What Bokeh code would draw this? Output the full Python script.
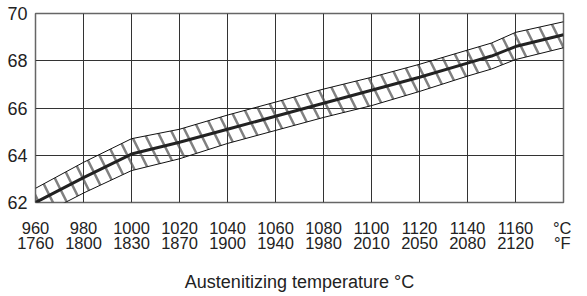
from bokeh.plotting import figure
from bokeh.models import FixedTicker, Range1d
from bokeh.embed import file_html
from bokeh.resources import INLINE

# Austenitizing temperature (°C) and hardness band (HRC)
temp_c = [960, 980, 1000, 1020, 1040, 1060, 1080, 1100, 1120, 1140, 1150, 1160, 1180]
hardness_mid = [62.0, 63.05, 64.05, 64.55, 65.1, 65.65, 66.2, 66.75, 67.3, 67.9, 68.2, 68.6, 69.1]
hardness_upper = [62.6, 63.7, 64.7, 65.1, 65.7, 66.25, 66.8, 67.3, 67.85, 68.45, 68.75, 69.2, 69.65]
hardness_lower = [61.35, 62.4, 63.35, 63.85, 64.5, 65.05, 65.6, 66.1, 66.7, 67.35, 67.65, 68.05, 68.55]

x_ticks = [960, 980, 1000, 1020, 1040, 1060, 1080, 1100, 1120, 1140, 1160, 1180]
labels_c = ["960", "980", "1000", "1020", "1040", "1060", "1080", "1100", "1120", "1140", "1160", "°C"]
labels_f = ["1760", "1800", "1830", "1870", "1900", "1940", "1980", "2010", "2050", "2080", "2120", "°F"]
y_ticks = [62, 64, 66, 68, 70]

FONT = "Liberation Sans"

p = figure(width=571, height=294, x_range=Range1d(960, 1180), y_range=Range1d(62, 70),
           output_backend="svg", toolbar_location=None,
           min_border_left=35, min_border_right=8, min_border_top=13, min_border_bottom=89)
p.outline_line_color = "#666666"
p.outline_line_width = 1.5
p.background_fill_color = "white"
p.border_fill_color = "white"

# grid
p.xgrid.ticker = FixedTicker(ticks=x_ticks)
p.ygrid.ticker = FixedTicker(ticks=y_ticks)
for g in (p.xgrid, p.ygrid):
    g.grid_line_color = "#333333"
    g.grid_line_width = 1
    g.grid_line_alpha = 1

# band
p.varea(x=temp_c, y1=hardness_lower, y2=hardness_upper, fill_color=None, fill_alpha=0,
        hatch_pattern="\\", hatch_color="#555555", hatch_weight=2.5, hatch_scale=28, hatch_alpha=0.75)
p.line(temp_c, hardness_upper, line_color="#111111", line_width=1)
p.line(temp_c, hardness_lower, line_color="#111111", line_width=1)
p.line(temp_c, hardness_mid, line_color="#222222", line_width=3)

# x axis with two label rows
xa = p.xaxis[0]
xa.ticker = FixedTicker(ticks=x_ticks)
xa.major_label_overrides = {t: f"{c}\n{f}" for t, c, f in zip(x_ticks, labels_c, labels_f)}
xa.axis_line_color = None
xa.major_tick_line_color = None
xa.minor_tick_line_color = None
xa.major_tick_out = 0
xa.major_label_standoff = 16
xa.major_label_text_font = FONT
xa.major_label_text_font_size = "16.5px"
xa.major_label_text_color = "#222222"
xa.major_label_text_line_height = 0.86
xa.axis_label = "Austenitizing temperature °C"
xa.axis_label_text_font = FONT
xa.axis_label_text_font_size = "18px"
xa.axis_label_text_font_style = "normal"
xa.axis_label_text_color = "#222222"
xa.axis_label_standoff = 17

ya = p.yaxis[0]
ya.ticker = FixedTicker(ticks=y_ticks)
ya.axis_line_color = None
ya.major_tick_line_color = None
ya.minor_tick_line_color = None
ya.major_tick_out = 0
ya.major_label_standoff = 8
ya.major_label_text_font = FONT
ya.major_label_text_font_size = "18px"
ya.major_label_text_color = "#222222"

open("out.html", "w").write(file_html(p, INLINE))
